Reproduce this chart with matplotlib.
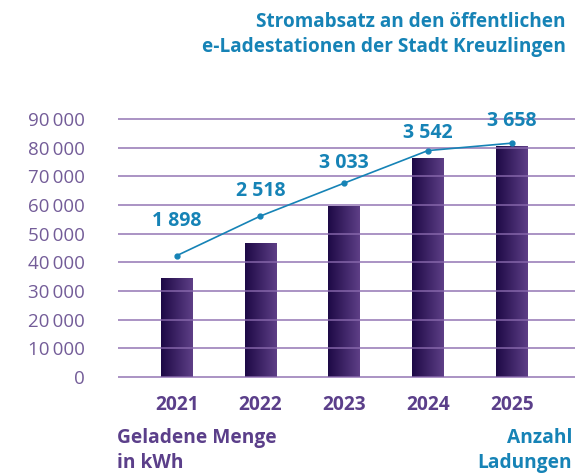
import numpy as np
import matplotlib
matplotlib.use("Agg")
import matplotlib.pyplot as plt
from matplotlib.colors import LinearSegmentedColormap

# ---- data ----
years = ["2021", "2022", "2023", "2024", "2025"]
kwh = [34500, 46600, 59600, 76400, 80600]          # Geladene Menge in kWh (bars)
ladungen = [1898, 2518, 3033, 3542, 3658]           # Anzahl Ladungen (line)
ladungen_labels = ["1 898", "2 518", "3 033", "3 542", "3 658"]
yticks = [0, 10000, 20000, 30000, 40000, 50000, 60000, 70000, 80000, 90000]
ytick_labels = ["0", "10\u2009000", "20\u2009000", "30\u2009000", "40\u2009000",
                "50\u2009000", "60\u2009000", "70\u2009000", "80\u2009000", "90\u2009000"]

# ---- style ----
FAM = ["Open Sans", "DejaVu Sans"]
plt.rcParams["font.family"] = FAM
PURPLE = "#5b3f8a"
TICKC = "#735c98"
BLUE = "#1683b6"
GRID = "#8a6aae"
label_offsets = [25, 18, 14.5, 13, 16]  # points above markers (label centre)

W, H = 579, 475
fig = plt.figure(figsize=(W / 100, H / 100), dpi=100)

# axes geometry in pixels
left_px, right_px = 118, 575
y0_px, y90_px = 377, 119
pad_units = 1000
ppu = (y0_px - y90_px) / 90000.0
bottom_px = (H - y0_px) - pad_units * ppu
height_px = (y0_px - y90_px) + 2 * pad_units * ppu
ax = fig.add_axes([left_px / W, bottom_px / H, (right_px - left_px) / W, height_px / H])

x = np.arange(len(years))
bars = ax.bar(x, kwh, width=0.38, facecolor="none", edgecolor="none", zorder=1)

cmap = LinearSegmentedColormap.from_list("g", ["#1d0946", "#5e3f86"])
grad = np.linspace(0, 1, 256).reshape(1, -1)
for b in bars:
    bx, by = b.get_x(), b.get_y()
    bw, bh = b.get_width(), b.get_height()
    im = ax.imshow(grad, cmap=cmap, aspect="auto", extent=[bx, bx + bw, by, by + bh],
                   zorder=1, interpolation="bilinear")
    im.set_clip_path(b)

xmin = (left_px - 176.7) / 83.75
xmax = (right_px - 176.7) / 83.75
ax.set_xlim(xmin, xmax)
ax.set_ylim(-pad_units, 90000 + pad_units)

ax.set_yticks(yticks)
ax.set_yticklabels(ytick_labels)
ax.set_xticks(x)
ax.set_xticklabels(years)
ax.tick_params(axis="y", length=0, pad=24, labelsize=13.5, labelcolor=TICKC)
ax.tick_params(axis="x", length=0, pad=11, labelsize=13.8, labelcolor=PURPLE)
for t in ax.get_xticklabels():
    t.set_fontweight("bold")
for sp in ax.spines.values():
    sp.set_visible(False)
ax.grid(axis="y", color=GRID, linewidth=1.2, alpha=0.85)
ax.set_axisbelow(False)
ax.grid(axis="x", visible=False)
ax.patch.set_alpha(0)

# secondary axis for line
ax2 = ax.twinx()
factor = 22.3
ax2.set_ylim(-pad_units / factor, (90000 + pad_units) / factor)
ax2.set_xlim(xmin, xmax)
ax2.plot(x, ladungen, color=BLUE, linewidth=1.2, marker="o", markersize=3.5, zorder=3)
ax2.set_yticks([])
for sp in ax2.spines.values():
    sp.set_visible(False)
for xi, v, lab, off in zip(x, ladungen, ladungen_labels, label_offsets):
    ax2.annotate(lab, (xi, v), xytext=(0, off), textcoords="offset points",
                 ha="center", va="center", fontsize=14, fontweight="bold", color=BLUE)

# titles
fig.text(566 / W, 1 - 21.7 / H, "Stromabsatz an den öffentlichen", ha="right", va="center",
         fontsize=13.7, fontweight="bold", color=BLUE)
fig.text(566 / W, 1 - 46.7 / H, "e-Ladestationen der Stadt Kreuzlingen", ha="right", va="center",
         fontsize=13.7, fontweight="bold", color=BLUE)

# bottom labels
fig.text(117 / W, 1 - 438.3 / H, "Geladene Menge", ha="left", va="center",
         fontsize=13.8, fontweight="bold", color=PURPLE)
fig.text(117 / W, 1 - 463.3 / H, "in kWh", ha="left", va="center",
         fontsize=13.8, fontweight="bold", color=PURPLE)
fig.text(572 / W, 1 - 438.3 / H, "Anzahl", ha="right", va="center",
         fontsize=13.8, fontweight="bold", color=BLUE)
fig.text(572 / W, 1 - 463.3 / H, "Ladungen", ha="right", va="center",
         fontsize=13.8, fontweight="bold", color=BLUE)

fig.savefig("out.png", dpi=100)
